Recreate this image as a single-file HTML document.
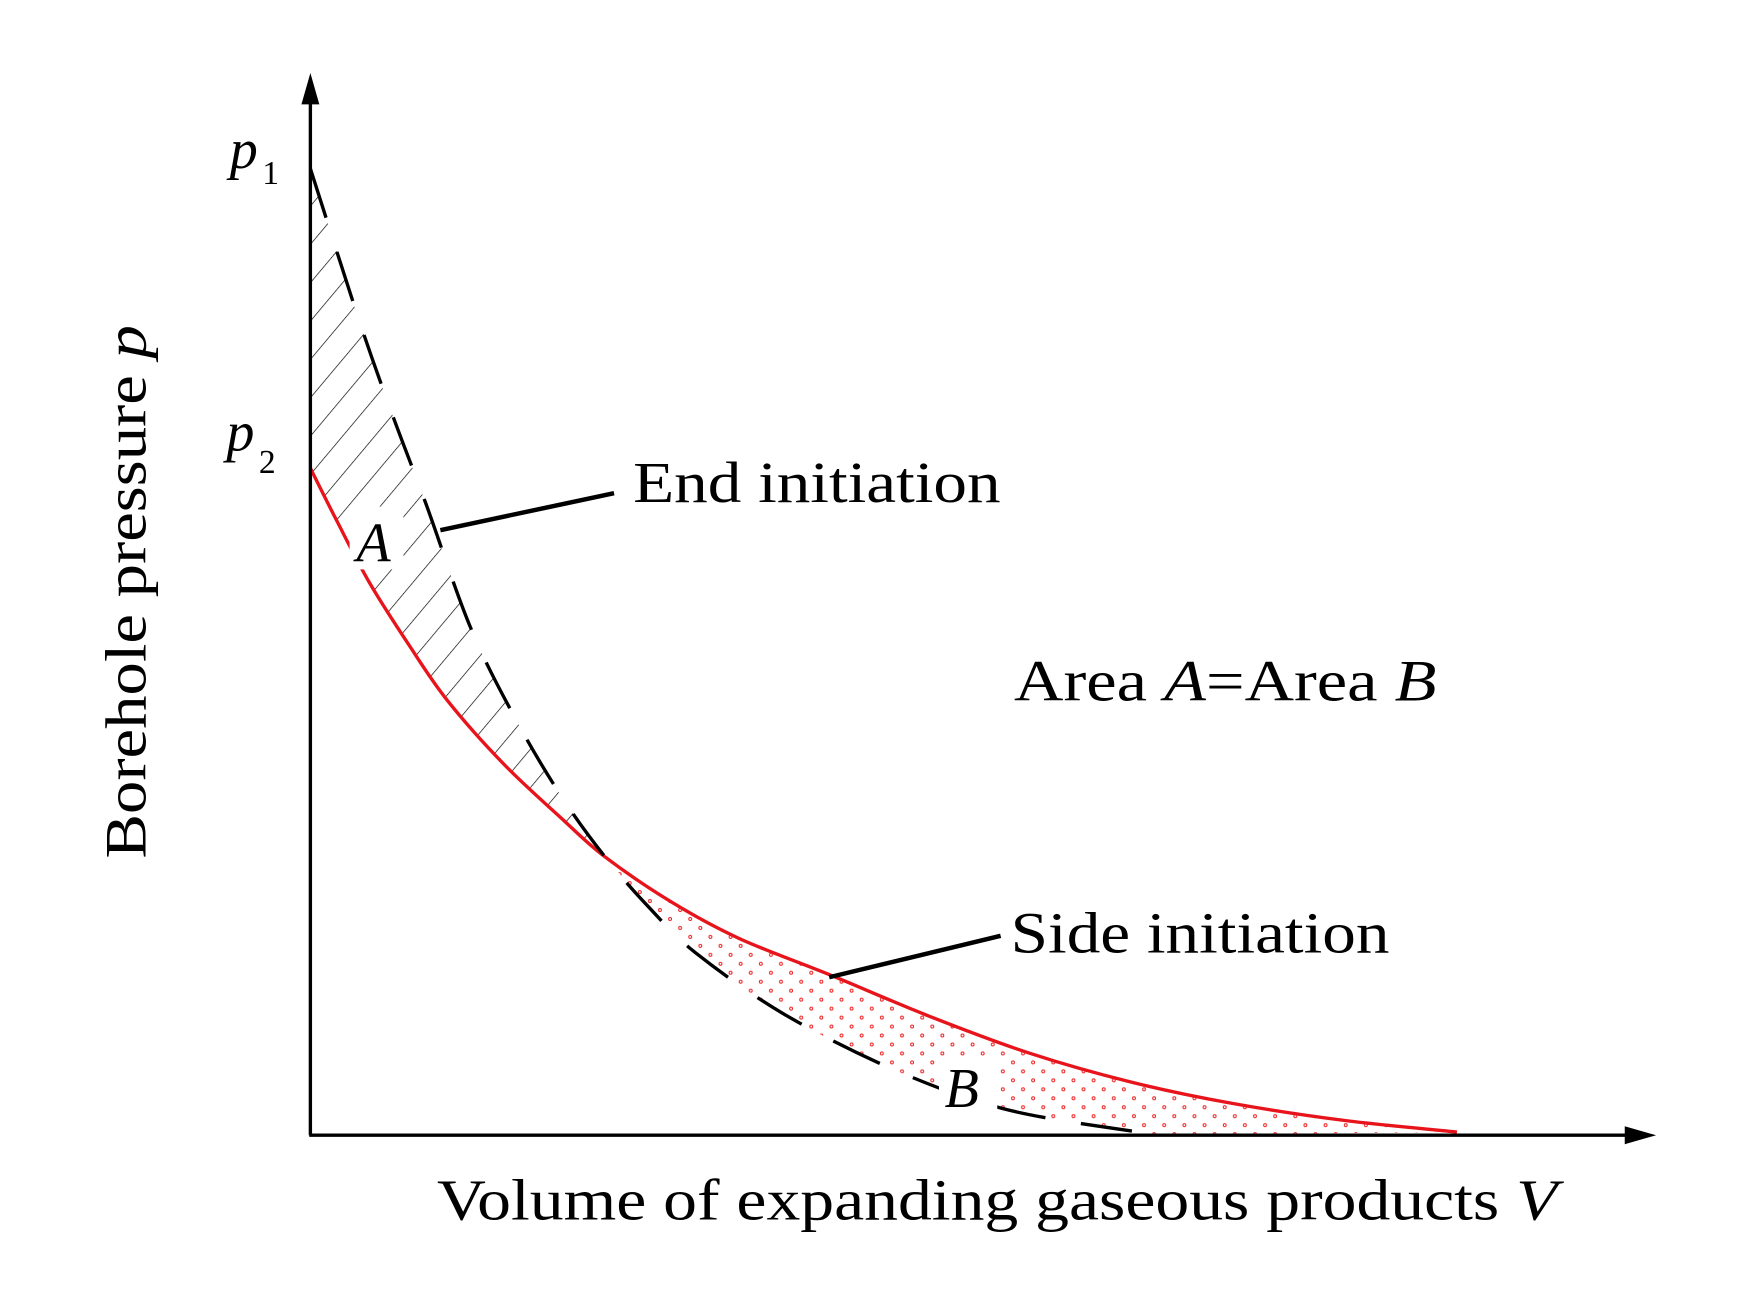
<!DOCTYPE html>
<html><head><meta charset="utf-8"><style>
html,body{margin:0;padding:0;background:#fff;}
svg{display:block;}
text{font-family:"Liberation Serif",serif;fill:#000;}
</style></head><body>
<svg id="chart" width="1748" height="1299" viewBox="0 0 1560 1159" xmlns="http://www.w3.org/2000/svg">
<defs>
<pattern id="hatch" width="22" height="22" patternUnits="userSpaceOnUse" patternTransform="rotate(40)">
<line x1="0" y1="0" x2="0" y2="22" stroke="#000" stroke-width="1.2"/>
</pattern>
<pattern id="dots" width="18" height="16" patternUnits="userSpaceOnUse">
<circle cx="4" cy="4" r="1.3" fill="none" stroke="#e22" stroke-width="0.9"/>
<circle cx="13" cy="12" r="1.3" fill="none" stroke="#e22" stroke-width="0.9"/>
</pattern>
</defs>
<g id="areas"></g>
<g id="curves"></g>
<line x1="277" y1="1013" x2="277" y2="85" stroke="#000" stroke-width="3"/>
<polygon points="277,65 269,93 285,93" fill="#000"/>
<line x1="276" y1="1013" x2="1458" y2="1013" stroke="#000" stroke-width="3"/>
<polygon points="1478,1013 1450,1005 1450,1021" fill="#000"/>
<text x="205" y="150" font-size="50" font-style="italic">p</text>
<text x="234" y="164" font-size="30">1</text>
<text x="202" y="402" font-size="50" font-style="italic">p</text>
<text x="231" y="422" font-size="30">2</text>
<text transform="translate(130,766) rotate(-90)" font-size="52" textLength="476" lengthAdjust="spacingAndGlyphs">Borehole pressure <tspan font-style="italic">p</tspan></text>
<text x="390" y="1088" font-size="52" textLength="1000" lengthAdjust="spacingAndGlyphs">Volume of expanding gaseous products <tspan font-style="italic">V</tspan></text>
<line x1="393" y1="473" x2="548" y2="440" stroke="#000" stroke-width="4"/>
<text x="565" y="448" font-size="52" textLength="328" lengthAdjust="spacingAndGlyphs">End initiation</text>
<line x1="740" y1="872" x2="893" y2="835" stroke="#000" stroke-width="4"/>
<text x="902" y="850" font-size="52" textLength="338" lengthAdjust="spacingAndGlyphs">Side initiation</text>
<text x="905" y="625" font-size="52" textLength="377" lengthAdjust="spacingAndGlyphs">Area <tspan font-style="italic">A</tspan>=Area <tspan font-style="italic">B</tspan></text>
<rect x="312" y="452" width="48" height="56" fill="#fff"/>
<text x="318" y="501" font-size="50" font-style="italic">A</text>
<rect x="838" y="945" width="52" height="52" fill="#fff"/>
<text x="843" y="988" font-size="50" font-style="italic">B</text>
</svg>
<script>
// Data (V and p in arbitrary 0-100 units)
const sideV = [0, 1.9, 4.4, 7.3, 10.2, 14.4, 18.6, 21.9, 26.9, 31.9, 38.6, 46.0, 53.5, 61.0, 68.5, 76.8, 85.2];
const sideP = [62.8, 58.0, 52.0, 46.2, 40.9, 34.9, 29.9, 26.2, 21.9, 18.5, 15.1, 11.2, 7.7, 5.0, 3.0, 1.4, 0.3];
const endV = [0, 3.6, 6.1, 8.6, 11.9, 15.2, 18.6, 21.9, 25.2, 28.6, 35.2, 43.5, 51.8, 61.5];
const endP = [91, 76.8, 67.8, 59.4, 47.8, 39.3, 32, 26.2, 21.4, 17.2, 11.4, 6.1, 2.4, 0.3];
const crossV = 21.9;

const xS = v => 277 + v * 12.01;
const yS = p => 1013 - p * 9.48;
const NS = 'http://www.w3.org/2000/svg';

function pts(V, P) { return V.map((v, i) => [xS(v), yS(P[i])]); }
function smooth(p) {
  let d = 'M' + p[0][0] + ',' + p[0][1];
  for (let i = 0; i < p.length - 1; i++) {
    const p0 = p[i - 1] || p[i], p1 = p[i], p2 = p[i + 1], p3 = p[i + 2] || p2;
    const c1 = [p1[0] + (p2[0] - p0[0]) / 6, p1[1] + (p2[1] - p0[1]) / 6];
    const c2 = [p2[0] - (p3[0] - p1[0]) / 6, p2[1] - (p3[1] - p1[1]) / 6];
    d += ' C' + c1 + ' ' + c2 + ' ' + p2;
  }
  return d;
}
function mk(tag, attrs, parent) {
  const e = document.createElementNS(NS, tag);
  for (const k in attrs) e.setAttribute(k, attrs[k]);
  parent.appendChild(e);
  return e;
}
const sideAll = pts(sideV, sideP), endAll = pts(endV, endP);
const ci = sideV.indexOf(crossV), ce = endV.indexOf(crossV);
const areas = document.getElementById('areas');
const aPts = endAll.slice(0, ce + 1);
const aRed = sideAll.slice(0, ci + 1).reverse();
const aD = smooth(aPts) + ' L' + aRed[0] + smooth(aRed).replace(/^M[^ ]+/, '') + ' Z';
const aEl = mk('path', { d: aD, fill: 'url(#hatch)', stroke: 'none' }, areas);


const bRed = sideAll.slice(ci);
const bEnd = endAll.slice(ce).reverse();
const bD = smooth(bRed) + ' L' + xS(endV[endV.length - 1]) + ',' + yS(0) + ' L' + bEnd[0] + smooth(bEnd).replace(/^M[^ ]+/, '') + ' Z';
const bEl = mk('path', { d: bD, fill: 'url(#dots)', stroke: 'none' }, areas);



const curves = document.getElementById('curves');
const red = mk('path', { d: smooth(sideAll), fill: 'none', stroke: '#e8141b', 'stroke-width': 3 }, curves);


const dash = mk('path', { d: smooth(endAll), fill: 'none', stroke: '#000', 'stroke-width': 3, 'stroke-dasharray': '46 32' }, curves);


</script>
</body></html>
